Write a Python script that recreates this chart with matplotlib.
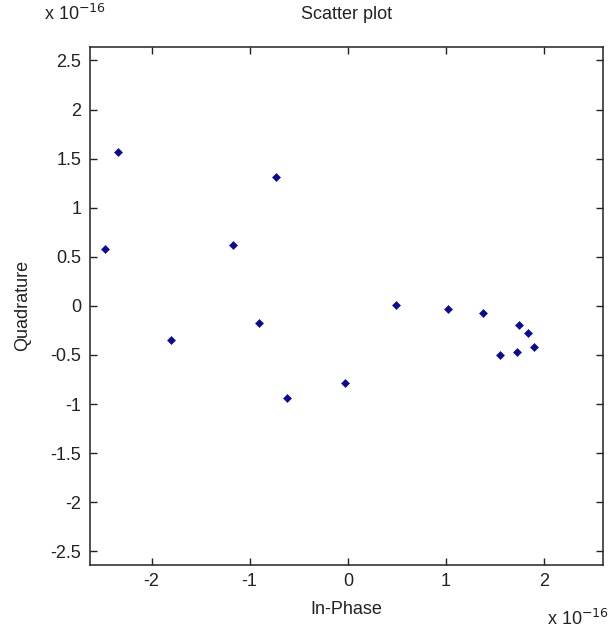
import numpy as np
import matplotlib
matplotlib.use("Agg")
import matplotlib.pyplot as plt
from matplotlib.ticker import FuncFormatter

# values in units of 1e-16
scale = 1e-16
in_phase   = [-2.47, -2.34, -1.80, -1.17, -0.90, -0.73, -0.62, -0.03,
              0.49, 1.02, 1.38, 1.74, 1.84, 1.90, 1.55, 1.72]
quadrature = [0.58, 1.57, -0.35, 0.62, -0.17, 1.31, -0.94, -0.79,
              0.01, -0.03, -0.07, -0.19, -0.28, -0.42, -0.50, -0.47]

xticks = [-2, -1, 0, 1, 2]
yticks = [-2.5, -2, -1.5, -1, -0.5, 0, 0.5, 1, 1.5, 2, 2.5]

plt.rcParams['font.family'] = ['Liberation Sans', 'DejaVu Sans']
txt = '#222222'
fs = 13

fig = plt.figure(figsize=(6.13, 6.33), dpi=100)
ax = fig.add_axes([0.1463, 0.1074, 0.8374, 0.8188])

x = np.asarray(in_phase) * scale
y = np.asarray(quadrature) * scale
ax.plot(x, y, linestyle='none', marker='D', markersize=3.6,
        color='#0a0a9a', markeredgewidth=0.4)

ax.set_xlim(-2.63 * scale, 2.60 * scale)
ax.set_ylim(-2.64 * scale, 2.64 * scale)
ax.set_xticks(np.asarray(xticks) * scale)
ax.set_yticks(np.asarray(yticks) * scale)

fmt = FuncFormatter(lambda v, p: ('%g' % round(v / scale, 2)))
ax.xaxis.set_major_formatter(fmt)
ax.yaxis.set_major_formatter(fmt)

ax.tick_params(direction='in', length=5, width=1.0, top=True, right=True,
               labelsize=fs, labelcolor=txt, pad=6, color='#222222')
for s in ax.spines.values():
    s.set_linewidth(1.1)
    s.set_color('#222222')

ax.set_title('Scatter plot', fontsize=fs, color=txt, pad=20)
ax.set_xlabel('In-Phase', fontsize=fs, color=txt, labelpad=8)
ax.set_ylabel('Quadrature', fontsize=fs, color=txt, labelpad=14)

fig.text(0.072, 0.978, r'x 10$^{-16}$', fontsize=fs, color=txt, va='center', ha='left')
fig.text(0.893, 0.022, r'x 10$^{-16}$', fontsize=fs, color=txt, va='center', ha='left')

fig.savefig('out.png', dpi=100)
